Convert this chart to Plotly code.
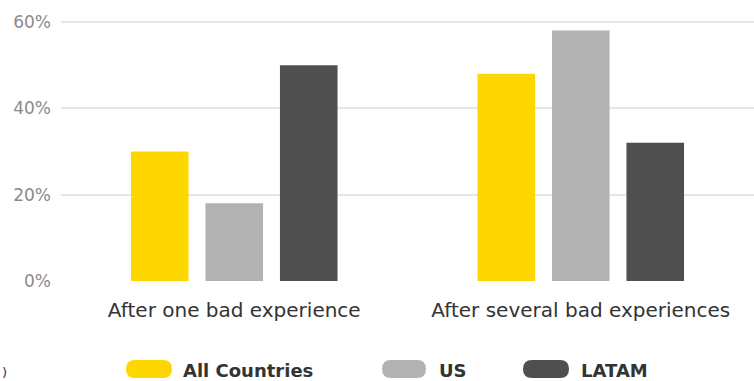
import plotly.graph_objects as go

categories = ["After one bad experience", "After several bad experiences"]
series_names = ["All Countries", "US", "LATAM"]
all_countries = [30, 48]
us = [18, 58]
latam = [50, 32]
tick_vals = [0, 20, 40, 60]
tick_text = ["0%", "20%", "40%", "60%"]
colors = ["#FFD700", "#B2B2B2", "#4F4F4F"]

W, H = 754, 381
ML, MR, MT, MB = 61, 0, 9, 100
PW, PH = W - ML - MR, H - MT - MB

fig = go.Figure()
for name, vals, col in zip(series_names, [all_countries, us, latam], colors):
    fig.add_trace(go.Bar(x=categories, y=vals, name=name, marker_color=col,
                         marker_line_width=0, showlegend=False))

def px2paper(x, y):
    return (x - ML) / PW, (H - MB - y) / PH

def pill(x0, x1, yc, h):
    r = h / 2
    def P(x, y):
        a, b = px2paper(x, y)
        return f"{a:.5f},{b:.5f}"
    path = f"M{P(x0 + r, yc - r)} L{P(x1 - r, yc - r)} "
    path += f"Q{P(x1, yc - r)} {P(x1, yc)} Q{P(x1, yc + r)} {P(x1 - r, yc + r)} "
    path += f"L{P(x0 + r, yc + r)} Q{P(x0, yc + r)} {P(x0, yc)} Q{P(x0, yc - r)} {P(x0 + r, yc - r)} Z"
    return path

legend_items = [
    (126, 172, 183, "All Countries"),
    (382, 426, 439, "US"),
    (523, 569, 581, "LATAM"),
]
yc = 369
shapes = []
annotations = []
for (x0, x1, tx, label), col in zip(legend_items, colors):
    shapes.append(dict(type="path", xref="paper", yref="paper", path=pill(x0, x1, yc, 18),
                       fillcolor=col, line=dict(width=0)))
    ax, ay = px2paper(tx - 2, yc + 1)
    annotations.append(dict(x=ax, y=ay, xref="paper", yref="paper", text=f"<b>{label}</b>",
                            showarrow=False, xanchor="left", yanchor="middle",
                            font=dict(family="DejaVu Sans", size=18, color="#333333")))

ax, ay = px2paper(0, 372)
annotations.append(dict(x=ax, y=ay, xref="paper", yref="paper", text=")", showarrow=False,
                        xanchor="left", yanchor="middle",
                        font=dict(family="DejaVu Sans", size=13, color="#333333")))

fig.update_layout(
    width=W, height=H,
    margin=dict(l=ML, r=MR, t=MT, b=MB),
    paper_bgcolor="white", plot_bgcolor="white",
    barmode="group", bargap=0.355, bargroupgap=0.227,
    shapes=shapes, annotations=annotations,
    xaxis=dict(showgrid=False, showline=False, ticks="", range=[-0.5, 1.5],
               ticklabelstandoff=15,
               tickfont=dict(family="DejaVu Sans", size=20, color="#333333")),
    yaxis=dict(range=[0, 63], tickvals=tick_vals, ticktext=tick_text,
               showgrid=True, gridcolor="#E6E6E6", gridwidth=1.5, zeroline=False,
               ticks="", showline=False, ticklabelstandoff=9,
               tickfont=dict(family="DejaVu Sans", size=17, color="#8A8A8A")),
)
fig.write_html("out.html")
